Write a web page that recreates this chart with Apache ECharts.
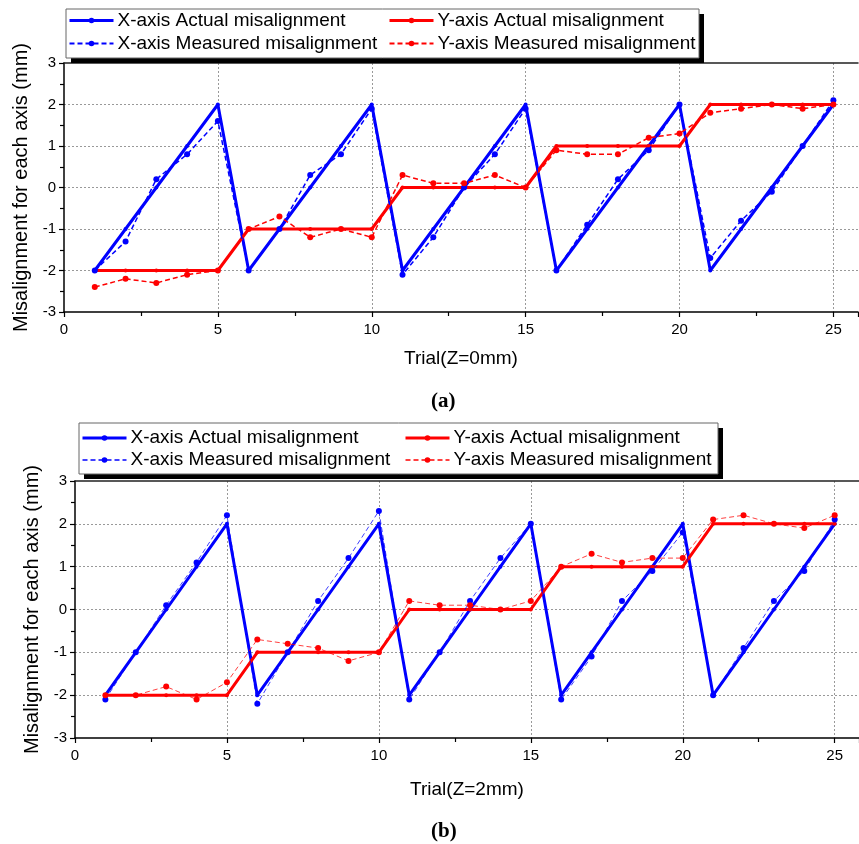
<!DOCTYPE html>
<html>
<head>
<meta charset="utf-8">
<script src="https://cdn.jsdelivr.net/npm/echarts@6/dist/echarts.min.js"></script>
<style>
  html, body { margin: 0; padding: 0; background: #fff; }
  #chart { width: 859px; height: 844px; }
</style>
</head>
<body>
<div id="chart"></div>
<script>
// trial numbers (x values)
var trials = [1, 2, 3, 4, 5, 6, 7, 8, 9, 10, 11, 12, 13, 14, 15, 16, 17, 18, 19, 20, 21, 22, 23, 24, 25];

// actual misalignment, same for both panels
var xActual = [-2, -1, 0, 1, 2, -2, -1, 0, 1, 2, -2, -1, 0, 1, 2, -2, -1, 0, 1, 2, -2, -1, 0, 1, 2];
var yActual = [-2, -2, -2, -2, -2, -1, -1, -1, -1, -1, 0, 0, 0, 0, 0, 1, 1, 1, 1, 1, 2, 2, 2, 2, 2];

// (a) Z=0mm measured
var xMeasuredA = [-2, -1.3, 0.2, 0.8, 1.6, -2, -1, 0.3, 0.8, 1.9, -2.1, -1.2, 0, 0.8, 1.9, -2, -0.9, 0.2, 0.9, 2, -1.7, -0.8, -0.1, 1, 2.1];
var yMeasuredA = [-2.4, -2.2, -2.3, -2.1, -2, -1, -0.7, -1.2, -1, -1.2, 0.3, 0.1, 0.1, 0.3, 0, 0.9, 0.8, 0.8, 1.2, 1.3, 1.8, 1.9, 2, 1.9, 2];

// (b) Z=2mm measured
var xMeasuredB = [-2.1, -1, 0.1, 1.1, 2.2, -2.2, -1, 0.2, 1.2, 2.3, -2.1, -1, 0.2, 1.2, 2, -2.1, -1.1, 0.2, 0.9, 1.8, -2, -0.9, 0.2, 0.9, 2.1];
var yMeasuredB = [-2, -2, -1.8, -2.1, -1.7, -0.7, -0.8, -0.9, -1.2, -1, 0.2, 0.1, 0.1, 0, 0.2, 1, 1.3, 1.1, 1.2, 1.2, 2.1, 2.2, 2, 1.9, 2.2];

var yTicks = [-3, -2, -1, 0, 1, 2, 3];
var xTitles = ["Trial(Z=0mm)", "Trial(Z=2mm)"];
var yTitle = "Misalignment for each axis (mm)";
var names = ["X-axis Actual misalignment", "Y-axis Actual misalignment", "X-axis Measured misalignment", "Y-axis Measured misalignment"];

var BLUE = "#0000ff";
var RED = "#ff0000";
var FONT = "Liberation Sans, Arial, sans-serif";

function pairs(vals) {
  return trials.map(function (t, i) { return [t, vals[i]]; });
}

function bottomX(grid, title, gap) {
  return {
    type: "value", gridIndex: grid, min: 0, max: 25.8, interval: 5,
    name: title, nameLocation: "middle", nameGap: gap,
    nameTextStyle: { fontFamily: FONT, fontSize: 19, color: "#000" },
    axisLine: { onZero: false, lineStyle: { color: "#000", width: 1.5 } },
    axisTick: { length: 5, lineStyle: { color: "#000", width: 1.2 } },
    minorTick: { show: true, splitNumber: 2, length: 4, lineStyle: { color: "#000", width: 1.2 } },
    axisLabel: { fontFamily: FONT, fontSize: 15, color: "#000", margin: 10, showMaxLabel: false },
    splitLine: { show: true, showMinLine: false, showMaxLine: false, lineStyle: { color: "#999", type: [2, 2], width: 1 } },
  };
}

function topX(grid) {
  return {
    type: "value", gridIndex: grid, position: "top", min: 0, max: 25.8,
    axisLine: { onZero: false, lineStyle: { color: "#222", width: 1.5 } },
    axisTick: { show: false }, axisLabel: { show: false }, splitLine: { show: false },
  };
}

function leftY(grid, gap) {
  return {
    type: "value", gridIndex: grid, min: yTicks[0], max: yTicks[yTicks.length - 1], interval: 1,
    name: yTitle, nameLocation: "middle", nameGap: gap,
    nameTextStyle: { fontFamily: FONT, fontSize: 20, color: "#000" },
    axisLine: { show: true, onZero: false, lineStyle: { color: "#000", width: 1.5 } },
    axisTick: { show: true, length: 5, lineStyle: { color: "#000", width: 1.2 } },
    minorTick: { show: true, splitNumber: 2, length: 4, lineStyle: { color: "#000", width: 1.2 } },
    axisLabel: { fontFamily: FONT, fontSize: 15, color: "#000", margin: 8 },
    splitLine: { show: true, showMinLine: false, showMaxLine: false, lineStyle: { color: "#999", type: [2, 2], width: 1 } },
  };
}

function actual(name, vals, color, idx) {
  return {
    name: name, type: "line", xAxisIndex: idx * 2, yAxisIndex: idx,
    data: pairs(vals), symbol: "circle", symbolSize: 4, showSymbol: true,
    lineStyle: { color: color, width: 3 }, itemStyle: { color: color },
    z: 3,
  };
}

function measured(name, vals, color, idx, thin) {
  return {
    name: name, type: "line", xAxisIndex: idx * 2, yAxisIndex: idx,
    data: pairs(vals), symbol: "circle", symbolSize: 6, showSymbol: true,
    lineStyle: thin
      ? { color: color, width: 1, type: [5, 3], opacity: 0.75 }
      : { color: color, width: 1.5, type: [5, 3] },
    itemStyle: { color: color },
    z: 4,
  };
}

// first entry of each legend column is the thick "actual" line
function legend(left, top, data, gap) {
  return {
    orient: "vertical", left: left, top: top, padding: 0, itemGap: 0,
    itemWidth: 44, itemHeight: 7, z: 6,
    data: [{ name: data[0], lineStyle: { width: 3 } }, { name: data[1] }],
    textStyle: { fontFamily: FONT, fontSize: 19, color: "#000", lineHeight: gap, padding: [0, 0, 0, -1] },
    formatter: function (n) { return n.replace(/^b:/, ""); },
  };
}

function box(x, y, w, h) {
  return [
    { type: "rect", z: 1, shape: { x: x + 5, y: y + 5, width: w, height: h }, style: { fill: "#000" } },
    { type: "rect", z: 2, shape: { x: x, y: y, width: w, height: h }, style: { fill: "#fff", stroke: "#666", lineWidth: 1 } },
  ];
}

var chart = echarts.init(document.getElementById("chart"));
chart.setOption({
  animation: false,
  backgroundColor: "#fff",
  title: [
    { text: "(a)", left: 426, top: 386, textStyle: { fontFamily: "Liberation Serif, serif", fontSize: 21, fontWeight: "bold", color: "#000" } },
    { text: "(b)", left: 426, top: 816, textStyle: { fontFamily: "Liberation Serif, serif", fontSize: 21, fontWeight: "bold", color: "#000" } },
  ],
  graphic: box(66, 9, 633, 49).concat(box(79, 423, 639, 51)),
  legend: [
    legend(68, 9, [names[0], names[2]], 23),
    legend(388, 9, [names[1], names[3]], 23),
    legend(81, 427, ["b:" + names[0], "b:" + names[2]], 22),
    legend(404, 427, ["b:" + names[1], "b:" + names[3]], 22),
  ],
  grid: [
    { left: 64, top: 63, right: 1, height: 249 },
    { left: 75, top: 481, right: 0, height: 257 },
  ],
  xAxis: [bottomX(0, xTitles[0], 37), topX(0), bottomX(1, xTitles[1], 42), topX(1)],
  yAxis: [leftY(0, 30), leftY(1, 33)],
  series: [
    actual(names[0], xActual, BLUE, 0),
    actual(names[1], yActual, RED, 0),
    measured(names[2], xMeasuredA, BLUE, 0, false),
    measured(names[3], yMeasuredA, RED, 0, false),
    actual("b:" + names[0], xActual, BLUE, 1),
    actual("b:" + names[1], yActual, RED, 1),
    measured("b:" + names[2], xMeasuredB, BLUE, 1, true),
    measured("b:" + names[3], yMeasuredB, RED, 1, true),
  ],
});
</script>
</body>
</html>
